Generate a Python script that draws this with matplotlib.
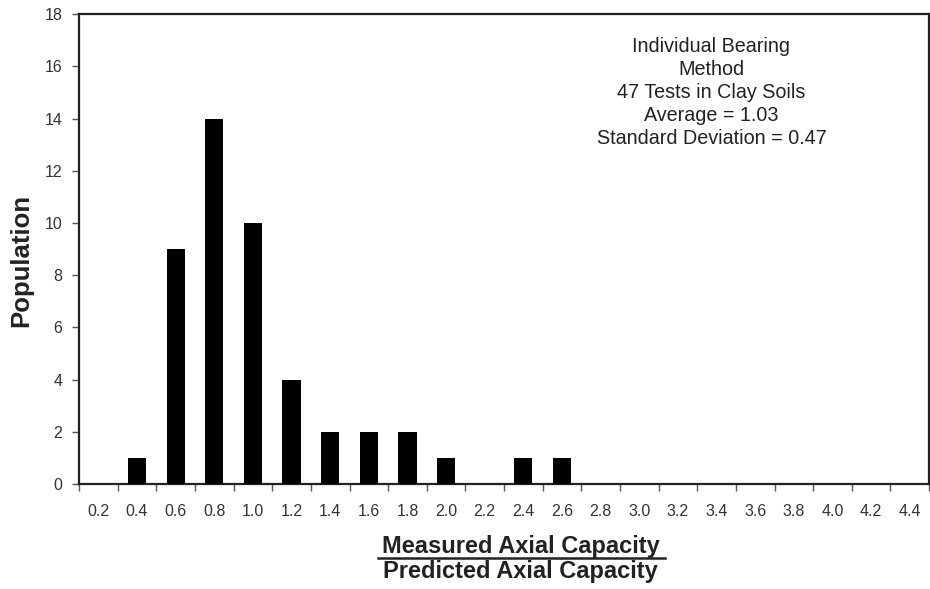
import numpy as np
import matplotlib
matplotlib.use("Agg")
import matplotlib.pyplot as plt

plt.rcParams['font.family'] = ['Liberation Sans', 'DejaVu Sans']

ratio_labels = ["0.2", "0.4", "0.6", "0.8", "1.0", "1.2", "1.4", "1.6", "1.8", "2.0", "2.2",
                "2.4", "2.6", "2.8", "3.0", "3.2", "3.4", "3.6", "3.8", "4.0", "4.2", "4.4"]
population = [0, 1, 9, 14, 10, 4, 2, 2, 2, 1, 0, 1, 1, 0, 0, 0, 0, 0, 0, 0, 0, 0]
y_ticks = [0, 2, 4, 6, 8, 10, 12, 14, 16, 18]

fig = plt.figure(figsize=(9.3, 5.89), dpi=100)
ax = fig.add_axes([0.085, 0.178, 0.914, 0.798])

x = np.arange(len(ratio_labels))
ax.bar(x, population, width=0.47, color="black", zorder=3)

ax.set_xlim(-0.5, len(ratio_labels) - 0.5)
ax.set_ylim(0, 18)
ax.set_yticks(y_ticks)
ax.set_yticklabels([str(v) for v in y_ticks])

# category labels centred under bars, tick marks at bin boundaries
ax.set_xticks(x)
ax.set_xticklabels(ratio_labels)
ax.tick_params(axis="x", which="major", length=0, pad=14, labelsize=11.5, labelcolor="#333333")
ax.set_xticks(np.arange(-0.5, len(ratio_labels), 1), minor=True)
ax.tick_params(axis="x", which="minor", length=5, width=1, color="#555555", direction="out")
ax.tick_params(axis="y", length=5, width=1, color="#555555", labelsize=11.5,
               labelcolor="#333333", pad=7)

for side in ["left", "bottom", "top", "right"]:
    ax.spines[side].set_linewidth(1.6)
    ax.spines[side].set_color("#222222")

ax.set_ylabel("Population", fontsize=18.5, fontweight="bold", color="#222222")
ax.yaxis.set_label_coords(-0.054, 0.477)

# fraction-style x axis title
fig.text(0.56, 0.061, "Measured Axial Capacity", ha="center", va="baseline",
         fontsize=17, fontweight="bold", color="#222222")
fig.add_artist(plt.Line2D([0.406, 0.715], [0.0525, 0.0525], color="#222222", lw=1.8,
                          transform=fig.transFigure))
fig.text(0.56, 0.0195, "Predicted Axial Capacity", ha="center", va="baseline",
         fontsize=17, fontweight="bold", color="#222222")

ax.text(0.744, 0.951,
        "Individual Bearing\nMethod\n47 Tests in Clay Soils\nAverage = 1.03\nStandard Deviation = 0.47",
        transform=ax.transAxes, ha="center", va="top", fontsize=14.2,
        color="#222222", linespacing=1.27)

fig.savefig("out.png", dpi=100)
